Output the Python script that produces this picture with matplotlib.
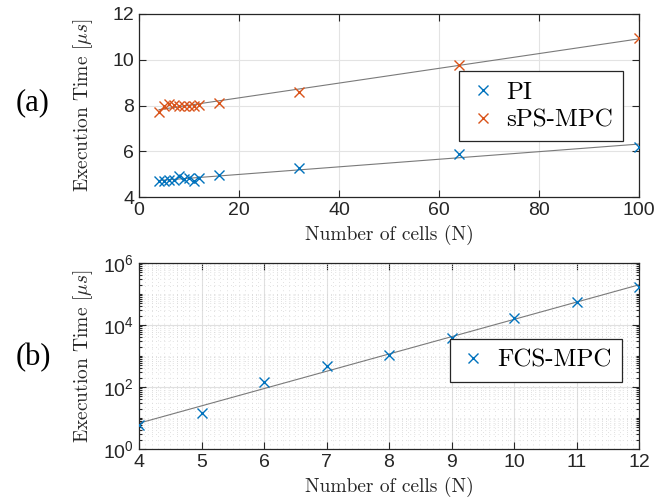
# -----------------------------------------------------------------------------
# Imports
# -----------------------------------------------------------------------------

import numpy as np
import matplotlib

matplotlib.use("Agg")
import matplotlib.pyplot as plt
from matplotlib import rcParams
from matplotlib.ticker import (FixedLocator, FuncFormatter, LogLocator,
                               MultipleLocator, NullFormatter)

## Matplotlib params
rcParams["font.family"] = "Liberation Sans"
rcParams["mathtext.fontset"] = "cm"
rcParams["axes.axisbelow"] = True

BLUE = "#0072BD"
ORANGE = "#D95319"
FIT = "#7a7a7a"
INK = "#262626"

# -----------------------------------------------------------------------------
# Data
# -----------------------------------------------------------------------------

cells = [4, 5, 6, 7, 8, 9, 10, 11, 12, 16, 32, 64, 100]
pi_time = [4.68, 4.72, 4.76, 4.74, 4.91, 4.79, 4.82, 4.68, 4.84, 4.94, 5.27, 5.87, 6.20]
sps_time = [7.73, 7.96, 8.06, 8.03, 7.98, 7.96, 7.96, 8.00, 8.02, 8.11, 8.57, 9.79, 10.95]

fcs_cells = [4, 5, 6, 7, 8, 9, 10, 11, 12]
fcs_time = [5.8, 14.8, 149, 490, 1070, 3900, 16500, 54000, 164000]

# -----------------------------------------------------------------------------
# Functions
# -----------------------------------------------------------------------------


def style_axes(ax) -> None:
    for spine in ax.spines.values():
        spine.set_color(INK)
        spine.set_linewidth(0.9)
    ax.tick_params(which="both", direction="in", top=True, right=True,
                   colors=INK, labelsize=14, width=0.8)
    ax.tick_params(which="major", length=5)
    ax.tick_params(which="minor", length=2.5)


def add_legend(ax, anchor) -> None:
    leg = ax.legend(loc="upper right", bbox_to_anchor=anchor, borderaxespad=0,
                    fancybox=False, framealpha=1, edgecolor=INK,
                    handlelength=1.1, handletextpad=0.4, borderpad=0.4,
                    labelspacing=0.2, prop={"family": "cmr10", "size": 18})
    leg.get_frame().set_linewidth(0.9)


def panel_a(ax) -> None:
    x = np.array(cells, dtype=float)
    for y, color, name in [(pi_time, BLUE, "PI"), (sps_time, ORANGE, "sPS-MPC")]:
        coef = np.polyfit(x, y, 1)
        xx = np.linspace(4, 100, 50)
        ax.plot(xx, np.polyval(coef, xx), color=FIT, lw=0.8, zorder=2)
        ax.plot(x, y, "x", color=color, ms=7, mew=1.0, label=name, zorder=3)
    ax.set_xlim(0, 100)
    ax.set_ylim(4, 12)
    ax.xaxis.set_major_locator(MultipleLocator(20))
    ax.yaxis.set_major_locator(MultipleLocator(2))
    ax.grid(color="#e3e3e3", lw=0.8)
    style_axes(ax)
    add_legend(ax, (0.968, 0.687))


def panel_b(ax) -> None:
    x = np.array(fcs_cells, dtype=float)
    coef = np.polyfit(x, np.log10(fcs_time), 1)
    xx = np.linspace(4, 12, 50)
    ax.plot(xx, 10 ** np.polyval(coef, xx), color=FIT, lw=0.8, zorder=2)
    ax.plot(x, fcs_time, "x", color=BLUE, ms=7, mew=1.0, label="FCS-MPC", zorder=3)
    ax.set_yscale("log")
    ax.set_xlim(4, 12)
    ax.set_ylim(1, 1e6)
    ax.xaxis.set_major_locator(MultipleLocator(1))
    ax.xaxis.set_minor_locator(MultipleLocator(0.1))
    ax.yaxis.set_major_locator(FixedLocator([1, 1e2, 1e4, 1e6]))
    ax.yaxis.set_minor_locator(LogLocator(base=10, subs=np.arange(1, 10), numticks=20))
    ax.yaxis.set_major_formatter(
        FuncFormatter(lambda v, _: r"$\mathregular{10^{%d}}$" % round(np.log10(v))))
    ax.yaxis.set_minor_formatter(NullFormatter())
    ax.grid(which="major", color="#e0e0e0", lw=0.8)
    ax.grid(which="minor", color="#d6d6d6", lw=0.6, ls=(0, (1, 4)))
    style_axes(ax)
    ax.tick_params(axis="x", which="minor", length=0)
    add_legend(ax, (0.965, 0.591))


def label_axes(ax, tag, tag_y) -> None:
    ax.set_xlabel("Number of cells (N)", family="cmr10", fontsize=14, color=INK,
                  labelpad=4)
    ax.set_ylabel(r"Execution Time [$\mu s$]", family="cmr10", fontsize=14,
                  color=INK)
    ax.yaxis.set_label_coords(-0.088, 0.5)
    ax.figure.text(33 / 670, 1 - tag_y / 501, tag, family="Liberation Serif",
                   fontsize=22, ha="center", va="center")


# -----------------------------------------------------------------------------
# Main
# -----------------------------------------------------------------------------


def main() -> None:
    fig = plt.figure(figsize=(6.7, 5.01), dpi=100)
    ax_a = fig.add_axes([139 / 670, 1 - 197 / 501, 500 / 670, 183 / 501])
    ax_b = fig.add_axes([139 / 670, 1 - 449 / 501, 500 / 670, 186 / 501])
    panel_a(ax_a)
    panel_b(ax_b)
    label_axes(ax_a, "(a)", 103)
    label_axes(ax_b, "(b)", 358)
    fig.savefig("out.png", dpi=100)


if __name__ == "__main__":
    main()
